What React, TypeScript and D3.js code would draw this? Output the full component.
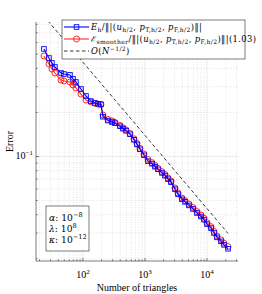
import React from 'react';
import * as d3 from 'd3';

// number of triangles (shared by both series)
const nTriangles = [
  23.5, 28.3, 31.6, 35.3, 44.2, 49.4, 61.7, 69.0, 77, 93, 112, 134, 156, 175, 195, 210,
  253, 294, 328, 395, 442, 494, 573, 665, 743, 830, 964, 1117, 1297, 1449, 1622, 1880,
  2103, 2350, 2626, 3049, 3407, 3952, 4417, 5124, 5944, 6899, 8000, 8949, 10000, 11610,
  12980, 14500, 16830, 18800, 21820,
];

// E_h / |||(u,p_T,p_F)|||  (blue squares)
const errorTrue = [
  0.543, 0.471, 0.436, 0.409, 0.372, 0.366, 0.361, 0.339, 0.323, 0.289, 0.259, 0.239, 0.232,
  0.229, 0.227, 0.187, 0.176, 0.172, 0.169, 0.161, 0.155, 0.15, 0.142, 0.13, 0.121, 0.112,
  0.102, 0.0928, 0.0893, 0.0852, 0.0817, 0.0772, 0.074, 0.07, 0.0668, 0.0597, 0.0553, 0.051,
  0.049, 0.0463, 0.0438, 0.0411, 0.0389, 0.037, 0.0345, 0.0324, 0.03, 0.028, 0.0263, 0.0249,
  0.0234,
];

// estimator / ||| ... ||| (1.03)  (red circles)
const errorEst = [
  0.486, 0.429, 0.396, 0.372, 0.333, 0.328, 0.323, 0.308, 0.294, 0.267, 0.243, 0.236, 0.231,
  0.228, 0.227, 0.192, 0.179, 0.175, 0.171, 0.163, 0.157, 0.152, 0.1436, 0.132, 0.1227,
  0.1135, 0.104, 0.0954, 0.0907, 0.0868, 0.083, 0.0787, 0.0753, 0.0713, 0.068, 0.0609,
  0.0563, 0.052, 0.0499, 0.0473, 0.0448, 0.042, 0.0398, 0.0378, 0.0353, 0.0331, 0.0307,
  0.0286, 0.0269, 0.0255, 0.0242,
];

// O(N^-1/2) reference line end points
const refN = [23.5, 21820];
const refErr = [0.91, 0.0298];

const xMajor = [100, 1000, 10000];
const xMajorExp = ['2', '3', '4'];
const yMajor = [0.1];
const yMajorExp = ['\u22121'];

const params = [
  { sym: '\u03b1', exp: '\u22128' },
  { sym: '\u03bb', exp: '8' },
  { sym: '\u03ba', exp: '\u221212' },
];

type Seg = { t: string; s?: 'sub' | 'sup'; i?: boolean };

const legendRows: { color?: string; marker?: 'square' | 'circle'; dashed?: boolean; segs: Seg[] }[] = [
  {
    color: '#0000ff',
    marker: 'square',
    segs: [
      { t: 'E', i: true }, { t: 'h', s: 'sub' }, { t: '/\u2016|(' }, { t: 'u', i: true },
      { t: 'h/2', s: 'sub' }, { t: ', ' }, { t: 'p', i: true }, { t: 'T,h/2', s: 'sub' },
      { t: ', ' }, { t: 'p', i: true }, { t: 'F,h/2', s: 'sub' }, { t: ')\u2016|' },
    ],
  },
  {
    color: '#ff2a2a',
    marker: 'circle',
    segs: [
      { t: '\u2130' }, { t: 'smoother', s: 'sub' }, { t: '/\u2016|(' }, { t: 'u', i: true },
      { t: 'h/2', s: 'sub' }, { t: ', ' }, { t: 'p', i: true }, { t: 'T,h/2', s: 'sub' },
      { t: ', ' }, { t: 'p', i: true }, { t: 'F,h/2', s: 'sub' }, { t: ')\u2016|(1.03)' },
    ],
  },
  {
    dashed: true,
    segs: [{ t: 'O', i: true }, { t: '(' }, { t: 'N', i: true }, { t: '\u22121/2', s: 'sup' }, { t: ')' }],
  },
];

const FONT = '"Liberation Serif", "DejaVu Serif", serif';
const LEG_FONT = '"DejaVu Serif", serif';

const Rich: React.FC<{ x: number; y: number; segs: Seg[]; fs: number }> = ({ x, y, segs, fs }) => {
  let off = 0;
  return (
    <text x={x} y={y} fontSize={fs} fontFamily={LEG_FONT} fill="#000" letterSpacing={0.4}>
      {segs.map((s, k) => {
        const target = s.s === 'sub' ? fs * 0.28 : s.s === 'sup' ? -fs * 0.38 : 0;
        const dy = target - off;
        off = target;
        return (
          <tspan key={k} dy={dy} fontSize={s.s ? fs * 0.72 : fs} fontStyle={s.i ? 'italic' : 'normal'}>
            {s.t}
          </tspan>
        );
      })}
    </text>
  );
};

const App: React.FC = () => {
  const W = 262;
  const H = 294;
  const left = 36, right = 238, top = 22, bottom = 261;

  const x = d3.scaleLog().domain([17.5, 31600]).range([left, right]);
  const y = d3.scaleLog().domain([0.0193, 0.83]).range([bottom, top]);

  const xMinor: number[] = [];
  for (let e = 1; e <= 4; e++) for (let m = 2; m <= 9; m++) {
    const v = m * Math.pow(10, e);
    if (v > 17.5 && v < 31600) xMinor.push(v);
  }
  const yMinor: number[] = [];
  for (let e = -2; e <= -1; e++) for (let m = 2; m <= 9; m++) {
    const v = m * Math.pow(10, e);
    if (v > 0.0193 && v < 0.83) yMinor.push(v);
  }

  const line = d3.line<number>().x((_, i) => x(nTriangles[i])).y((d) => y(d));
  const refLine = d3.line<number>().x((_, i) => x(refN[i])).y((d) => y(d));

  const axisColor = '#262626';

  return (
    <svg width={W} height={H} style={{ position: 'absolute', left: 0, top: 0, background: '#fff' }}>
      <defs>
        <clipPath id="plotClip">
          <rect x={left} y={top} width={right - left} height={bottom - top} />
        </clipPath>
      </defs>

      {/* grid */}
      <g>
        {xMinor.map((v) => (
          <line key={'gx' + v} x1={x(v)} x2={x(v)} y1={top} y2={bottom} stroke="#d4d4d4" strokeWidth={0.6} strokeDasharray="1,1.5" />
        ))}
        {yMinor.map((v) => (
          <line key={'gy' + v} x1={left} x2={right} y1={y(v)} y2={y(v)} stroke="#d4d4d4" strokeWidth={0.6} strokeDasharray="1,1.5" />
        ))}
        {xMajor.map((v) => (
          <line key={'gX' + v} x1={x(v)} x2={x(v)} y1={top} y2={bottom} stroke="#e2e2e2" strokeWidth={0.7} />
        ))}
        {yMajor.map((v) => (
          <line key={'gY' + v} x1={left} x2={right} y1={y(v)} y2={y(v)} stroke="#e2e2e2" strokeWidth={0.7} />
        ))}
      </g>

      {/* axes */}
      <line x1={left} x2={left} y1={top} y2={bottom} stroke={axisColor} strokeWidth={0.6} />
      <line x1={left} x2={right} y1={bottom} y2={bottom} stroke={axisColor} strokeWidth={0.6} />
      {xMajor.map((v) => (
        <line key={'tX' + v} x1={x(v)} x2={x(v)} y1={bottom} y2={bottom - 3} stroke={axisColor} strokeWidth={0.6} />
      ))}
      {xMinor.map((v) => (
        <line key={'tx' + v} x1={x(v)} x2={x(v)} y1={bottom} y2={bottom - 1.6} stroke={axisColor} strokeWidth={0.6} />
      ))}
      {yMajor.map((v) => (
        <line key={'tY' + v} x1={left} x2={left + 3} y1={y(v)} y2={y(v)} stroke={axisColor} strokeWidth={0.6} />
      ))}
      {yMinor.map((v) => (
        <line key={'ty' + v} x1={left} x2={left + 1.6} y1={y(v)} y2={y(v)} stroke={axisColor} strokeWidth={0.6} />
      ))}

      {/* tick labels */}
      {xMajor.map((v, i) => (
        <text key={'lX' + v} x={x(v)} y={278} fontFamily={FONT} fontSize={10} fill="#000" textAnchor="middle">
          <tspan>10</tspan>
          <tspan dy={-4.5} fontSize={7}>{xMajorExp[i]}</tspan>
        </text>
      ))}
      {yMajor.map((v, i) => (
        <text key={'lY' + v} x={left - 3} y={y(v) + 3} fontFamily={FONT} fontSize={10} fill="#000" textAnchor="end">
          <tspan>10</tspan>
          <tspan dy={-4.5} fontSize={7}>{yMajorExp[i]}</tspan>
        </text>
      ))}

      {/* axis labels */}
      <text x={(left + right) / 2} y={291} textAnchor="middle" fontFamily={FONT} fontSize={10} fill="#000">
        Number of triangles
      </text>
      <text transform={`translate(13,${(top + bottom) / 2}) rotate(-90)`} textAnchor="middle" fontFamily={FONT} fontSize={10} fill="#000">
        Error
      </text>

      {/* data */}
      <g clipPath="url(#plotClip)">
        <path d={refLine(refErr) || ''} fill="none" stroke="#222" strokeWidth={0.9} strokeDasharray="3.5,2.5" />
        <path d={line(errorEst) || ''} fill="none" stroke="#ff2a2a" strokeWidth={1.1} />
        {errorEst.map((v, i) => (
          <circle key={'c' + i} cx={x(nTriangles[i])} cy={y(v)} r={3} fill="none" stroke="#ff2a2a" strokeWidth={1} />
        ))}
        <path d={line(errorTrue) || ''} fill="none" stroke="#0000ff" strokeWidth={1.1} />
        {errorTrue.map((v, i) => (
          <rect key={'s' + i} x={x(nTriangles[i]) - 2.3} y={y(v) - 2.3} width={4.6} height={4.6} fill="none" stroke="#0000ff" strokeWidth={0.9} />
        ))}
      </g>

      {/* legend */}
      <g>
        <rect x={62} y={20} width={183} height={39} fill="#fff" stroke={axisColor} strokeWidth={0.6} />
        {legendRows.map((r, i) => {
          const ly = 27 + i * 12;
          return (
            <g key={'lg' + i}>
              {r.dashed ? (
                <line x1={64} x2={89} y1={ly} y2={ly} stroke="#222" strokeWidth={0.9} strokeDasharray="3.5,2.5" />
              ) : (
                <line x1={64} x2={89} y1={ly} y2={ly} stroke={r.color} strokeWidth={1.1} />
              )}
              {r.marker === 'square' && (
                <rect x={74.2} y={ly - 2.3} width={4.6} height={4.6} fill="none" stroke={r.color} strokeWidth={0.9} />
              )}
              {r.marker === 'circle' && (
                <circle cx={76.5} cy={ly} r={3} fill="none" stroke={r.color} strokeWidth={1} />
              )}
              <Rich x={91} y={ly + 3} segs={r.segs} fs={8.4} />
            </g>
          );
        })}
      </g>

      {/* parameter box */}
      <g>
        <rect x={46} y={206} width={43} height={45} fill="#fff" stroke={axisColor} strokeWidth={0.6} />
        {params.map((p, i) => (
          <text key={'p' + i} x={49} y={220.5 + i * 11} fontFamily={LEG_FONT} fontSize={9.2} fill="#000">
            <tspan fontStyle="italic">{p.sym}</tspan>
            <tspan>: 10</tspan>
            <tspan dy={-3.8} fontSize={6.6}>{p.exp}</tspan>
          </text>
        ))}
      </g>
    </svg>
  );
};

export default App;
